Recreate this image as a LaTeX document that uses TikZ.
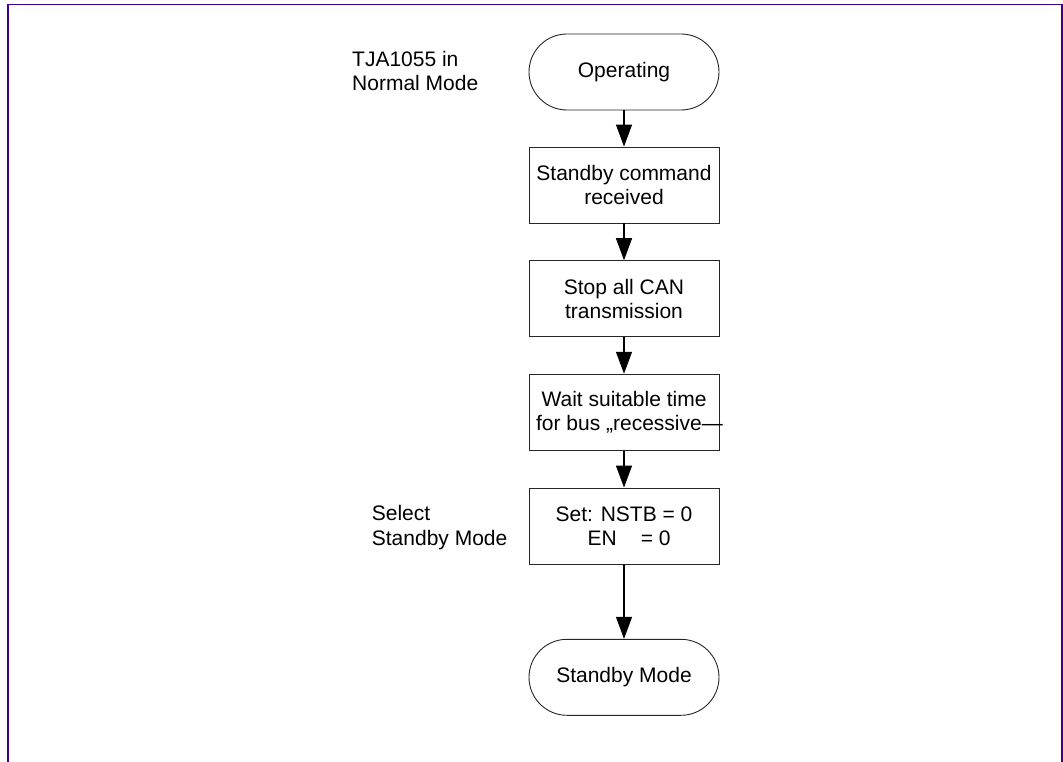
\documentclass[tikz,border=0pt]{standalone}
\usepackage{fontspec}
\setmainfont{Liberation Sans}
\usetikzlibrary{arrows.meta}
\definecolor{framecol}{RGB}{60,0,140}
\newcommand{\diafont}{\fontsize{21}{24}\selectfont}
\begin{document}
\begin{tikzpicture}[x=1pt,y=-1pt,
  box/.style={draw=black!85, line width=0.9pt, minimum width=190pt, minimum height=76pt, inner sep=0pt, align=center, font=\diafont},
  term/.style={box, rounded corners=38pt},
  flow/.style={draw=black, line width=1.2pt, -{Triangle[length=22pt,width=16pt]}},
  lbl/.style={anchor=base west, inner sep=0pt, font=\diafont},
  framestyle/.style={draw=framecol, line width=1.6pt}]
\useasboundingbox (0,0) rectangle (1063,762);
\draw[framestyle] (8,762) -- (8,4.5) -- (1062,4.5) -- (1062,762);

\node[term] (op) at (624,72) {Operating};
\node[box] (b1) at (624,185) {Standby command\\received};
\node[box] (b2) at (624,298.7) {Stop all CAN\\transmission};
\node[box] (b3) at (624,412.2) {Wait suitable time\\for bus „recessive\rlap{—}\hspace*{10pt}};
\node[box,align=left] (b4) at (624,526) {Set: NSTB = 0\\\hspace*{32pt}EN\hspace{24pt}= 0};
\node[term] (sb) at (624,677.3) {Standby Mode};

\draw[flow] (op) -- (b1);
\draw[flow] (b1) -- (b2);
\draw[flow] (b2) -- (b3);
\draw[flow] (b3) -- (b4);
\draw[flow] (b4) -- (sb);

\node[lbl] (l1) at (352,66.7) {TJA1055 in};
\node[lbl] (l2) at (352,90.5) {Normal Mode};
\node[lbl] (l3) at (371.7,520.7) {Select};
\node[lbl] (l4) at (371.7,545) {Standby Mode};
\end{tikzpicture}
\end{document}
